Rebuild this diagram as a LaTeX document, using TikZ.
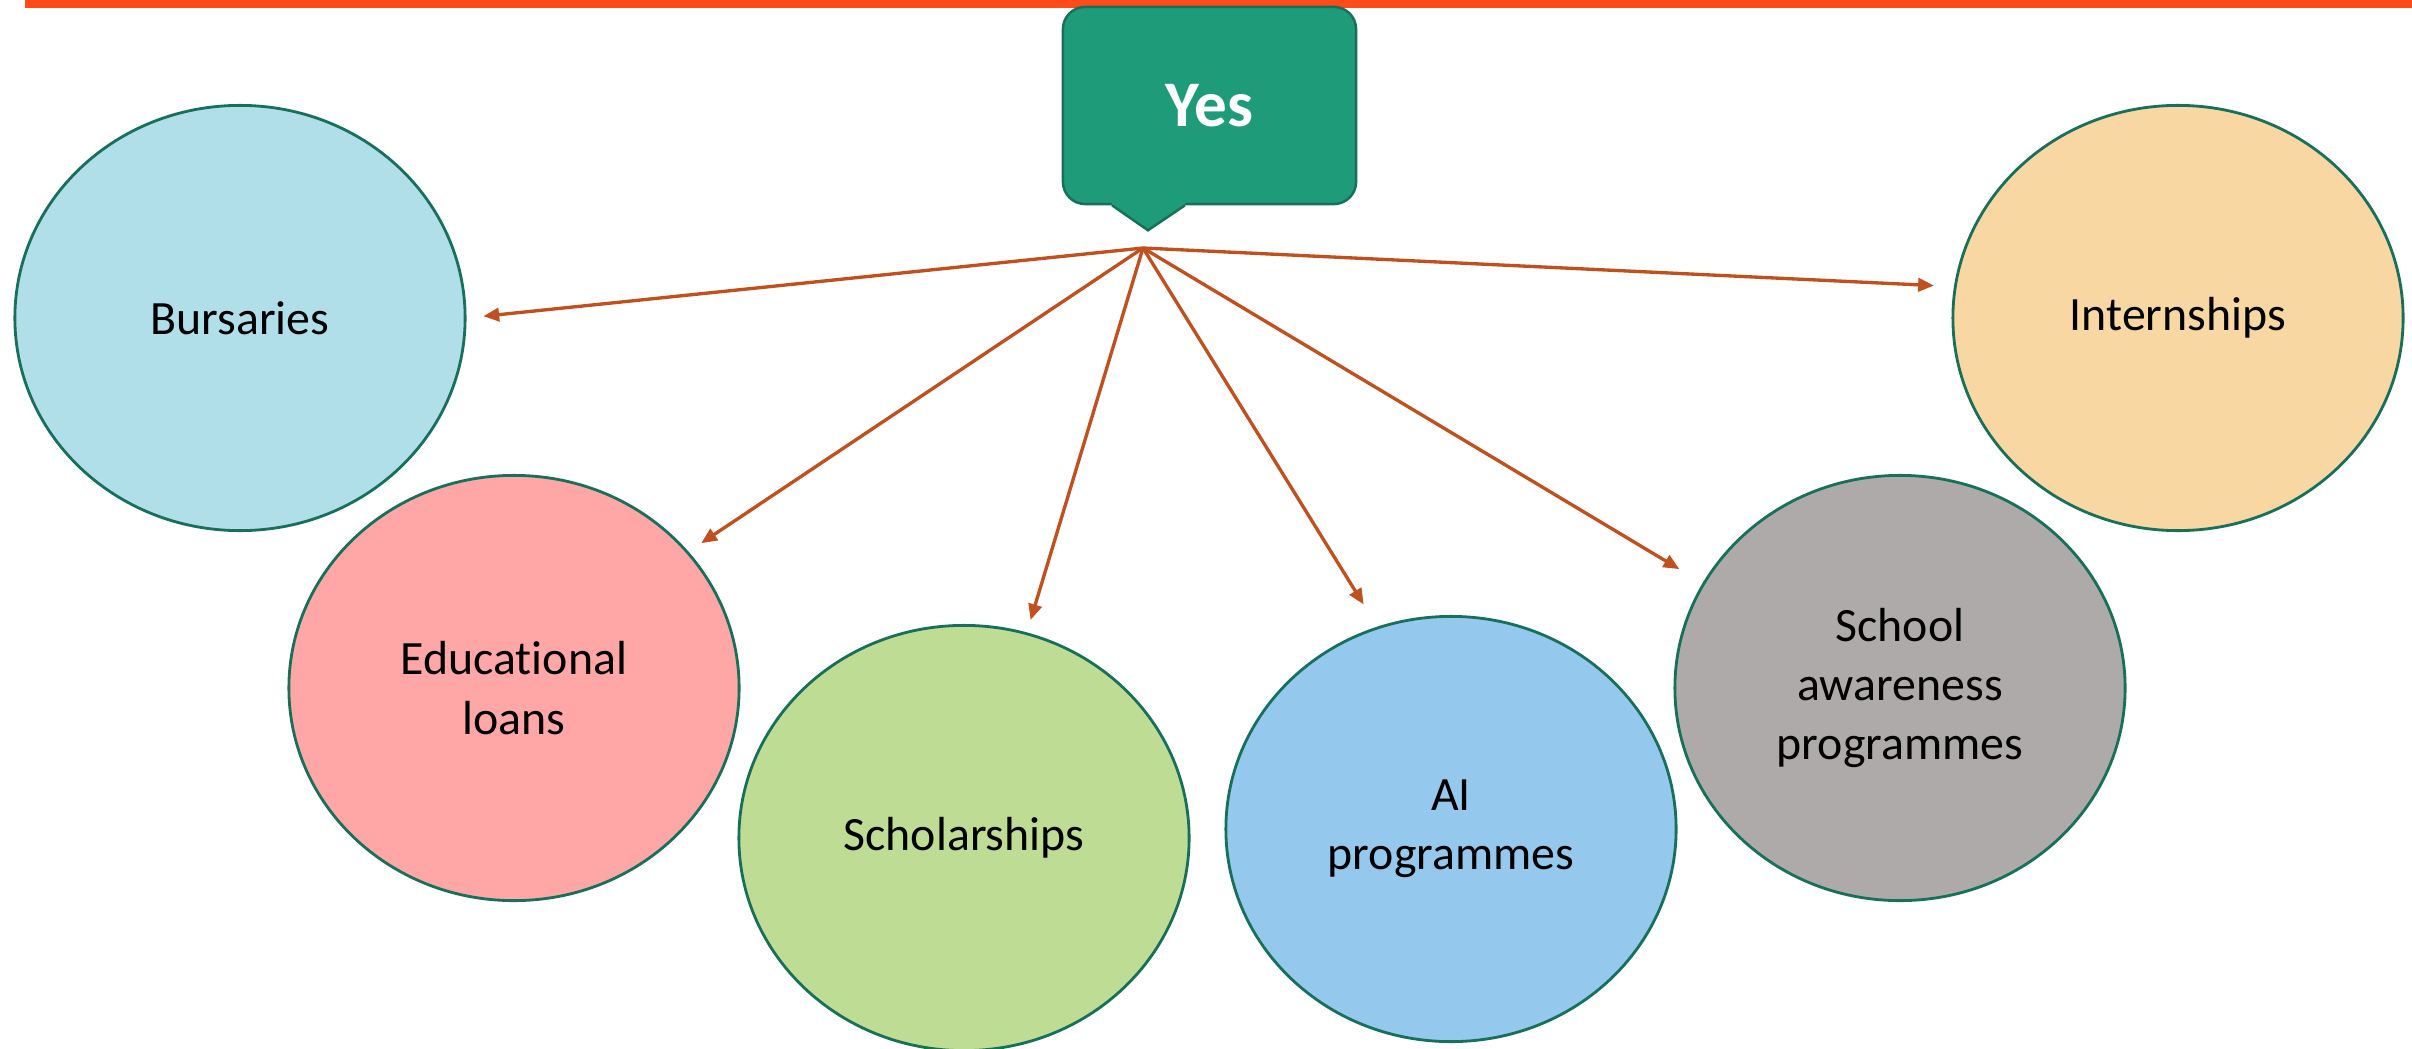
\documentclass[tikz,border=0pt]{standalone}
\usepackage{fontspec}
\setmainfont[Ligatures=NoCommon]{Carlito}
\usetikzlibrary{shapes.geometric,arrows.meta}

\definecolor{barred}{HTML}{FF4A1A}
\definecolor{yesfill}{HTML}{1E9B78}
\definecolor{yesdraw}{HTML}{17705A}
\definecolor{ringgreen}{HTML}{17705A}
\definecolor{linkred}{HTML}{C0501E}
\definecolor{burfill}{HTML}{B0DFEA}
\definecolor{loanfill}{HTML}{FFA6A6}
\definecolor{scholfill}{HTML}{BFDC95}
\definecolor{aifill}{HTML}{94C8EC}
\definecolor{schoolfill}{HTML}{AEAAA9}
\definecolor{internfill}{HTML}{F8D7A3}

\tikzset{
  bubble/.style={ellipse,draw=ringgreen,line width=0.8pt,minimum width=4.5cm,
    minimum height=4.25cm,inner sep=0pt,align=center,
    font=\fontsize{13.6}{16.9}\selectfont},
  yesbox/.style={rectangle,rounded corners=6.3pt,fill=yesfill,draw=yesdraw,
    line width=0.7pt,minimum width=2.93cm,minimum height=1.97cm,text=white,
    font=\fontsize{18.5}{22}\bfseries\selectfont},
  link/.style={draw=linkred,line width=0.95pt,-{Triangle[length=4.5pt,width=3.8pt]}}
}

\begin{document}
\begin{tikzpicture}[x=0.01cm,y=-0.01cm]
\useasboundingbox (0,0) rectangle (2412,1048);
% strip along the top
\fill[barred] (25,0) rectangle (2412,8);
% speech box with its pointer
\node[yesbox] (yes) at (1209.5,105.5) {Yes};
\fill[yesfill] ([xshift=-0.975cm,yshift=0.05cm]yes.south) -- ([xshift=-0.975cm]yes.south)
  -- ([xshift=-0.615cm,yshift=-0.25cm]yes.south) -- ([xshift=-0.245cm]yes.south)
  -- ([xshift=-0.245cm,yshift=0.05cm]yes.south) -- cycle;
\draw[yesdraw,line width=0.7pt] ([xshift=-0.975cm]yes.south)
  -- ([xshift=-0.615cm,yshift=-0.25cm]yes.south) -- ([xshift=-0.245cm]yes.south);
\coordinate (hub) at (1143,248);

\node[bubble,fill=burfill] (bur) at (240,318) {Bursaries};
\node[bubble,fill=loanfill] (loans) at (514,688) {Educational\\loans};
\node[bubble,fill=scholfill] (schol) at (964,838) {Scholarships};
\node[bubble,fill=aifill] (ai) at (1451,829) {AI\\programmes};
\node[bubble,fill=schoolfill] (school) at (1900,688) {School\\awareness\\programmes};
\node[bubble,fill=internfill] (intern) at (2178,318) {Internships};

\foreach \to/\ang/\gap in {bur/0/4.8pt,loans/38/4.3pt,schol/73/3.7pt,
  ai/110/7.4pt,school/152/7.7pt,intern/172/5.7pt}
  \draw[link,shorten >=\gap] (hub) -- (\to.\ang);
\end{tikzpicture}
\end{document}
